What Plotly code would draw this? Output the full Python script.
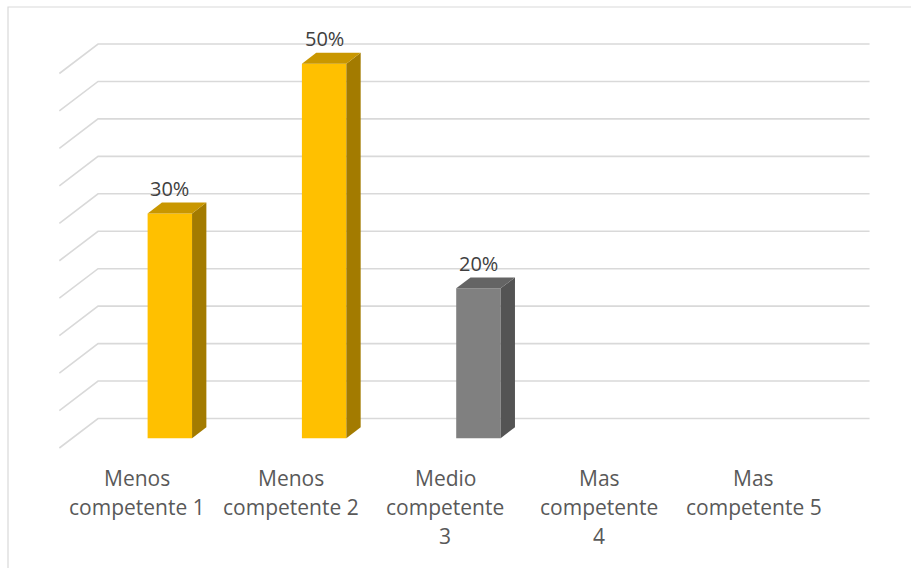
import plotly.graph_objects as go

# ---- data ----
categories = ["Menos competente 1", "Menos competente 2", "Medio competente 3",
              "Mas competente 4", "Mas competente 5"]
# wrapped category labels, one entry per text line
tick_lines = [["Menos", "competente 1"], ["Menos", "competente 2"],
              ["Medio", "competente", "3"], ["Mas", "competente", "4"],
              ["Mas", "competente 5"]]
values = [30, 50, 20, 0, 0]          # percent
grid_ticks = [0, 5, 10, 15, 20, 25, 30, 35, 40, 45, 50]

# ---- styling ----
front_colors = ["#FFC000", "#FFC000", "#808080", "#FFC000", "#FFC000"]
top_colors = ["#C99700", "#C99700", "#646464", "#C99700", "#C99700"]
side_colors = ["#A37B00", "#A37B00", "#545454", "#A37B00", "#A37B00"]
GRID_COLOR = "#D9D9D9"

W, H = 911, 568
PX_PER_CAT, X0 = 154.3, 136.5       # horizontal scale of the category axis
PX_PER_PCT, Y0 = 7.49, 448.0        # vertical scale of the value axis

# oblique depth vector (full floor depth), in axis units
DEPTH_DX = 38.7 / PX_PER_CAT
DEPTH_DY = 29.5 / PX_PER_PCT
BAR_FRONT_DEPTH = 1 / 3
BAR_DEPTH = 0.37
BAR_SHIFT = 0.216
BAR_WIDTH = 0.288
LINE_GAP = 29                       # px between wrapped label lines

n = len(categories)
fig = go.Figure()

# walls: gridlines on the back wall plus their diagonal on the left wall
shapes = []
left_front = -0.5
right_back = n - 0.5 + DEPTH_DX
for t in grid_ticks:
    path = (f"M {left_front},{t} L {left_front + DEPTH_DX},{t + DEPTH_DY} "
            f"L {right_back},{t + DEPTH_DY}")
    shapes.append(dict(type="path", path=path, xref="x", yref="y", layer="below",
                       line=dict(color=GRID_COLOR, width=1.6)))

# chart frame
shapes.append(dict(type="rect", xref="paper", yref="paper",
                   x0=8 / W, x1=1.02, y0=-0.02, y1=1 - 7 / H,
                   line=dict(color=GRID_COLOR, width=1.2), layer="below"))

base = BAR_FRONT_DEPTH * DEPTH_DY
bx = [i + BAR_SHIFT for i in range(n)]

# front faces
fig.add_trace(go.Bar(x=bx, y=values, base=[base] * n, width=BAR_WIDTH,
                     marker=dict(color=front_colors, line=dict(width=0)),
                     hoverinfo="skip", showlegend=False))

ddx, ddy = BAR_DEPTH * DEPTH_DX, BAR_DEPTH * DEPTH_DY
annotations = []
for i, v in enumerate(values):
    if v <= 0:
        continue
    xl, xr = bx[i] - BAR_WIDTH / 2, bx[i] + BAR_WIDTH / 2
    top = base + v
    # side face
    fig.add_trace(go.Scatter(
        x=[xr, xr, xr + ddx, xr + ddx, xr], y=[base, top, top + ddy, base + ddy, base],
        mode="lines", fill="toself", fillcolor=side_colors[i], line=dict(width=0),
        hoverinfo="skip", showlegend=False))
    # top face
    fig.add_trace(go.Scatter(
        x=[xl, xr, xr + ddx, xl + ddx, xl], y=[top, top, top + ddy, top + ddy, top],
        mode="lines", fill="toself", fillcolor=top_colors[i], line=dict(width=0),
        hoverinfo="skip", showlegend=False))
    annotations.append(dict(x=bx[i], y=top, xref="x", yref="y", text=f"{v}%",
                            showarrow=False, yanchor="middle", yshift=25,
                            font=dict(family="Open Sans", size=20, color="#404040")))

# category labels along the front edge of the floor
for i, lines in enumerate(tick_lines):
    for k, line in enumerate(lines):
        annotations.append(dict(x=i, y=0, xref="x", yref="y", text=line, showarrow=False,
                                yanchor="middle", yshift=-30 - LINE_GAP * k,
                                font=dict(family="Open Sans", size=21, color="#595959")))

fig.update_layout(
    width=W, height=H,
    margin=dict(l=0, r=0, t=0, b=0, pad=0),
    paper_bgcolor="white", plot_bgcolor="white",
    xaxis=dict(range=[-X0 / PX_PER_CAT, (W - X0) / PX_PER_CAT], visible=False, fixedrange=True),
    yaxis=dict(range=[-(H - Y0) / PX_PER_PCT, Y0 / PX_PER_PCT], visible=False, fixedrange=True),
    shapes=shapes, annotations=annotations, showlegend=False,
)

fig.write_html("out.html", config=dict(displayModeBar=False))
